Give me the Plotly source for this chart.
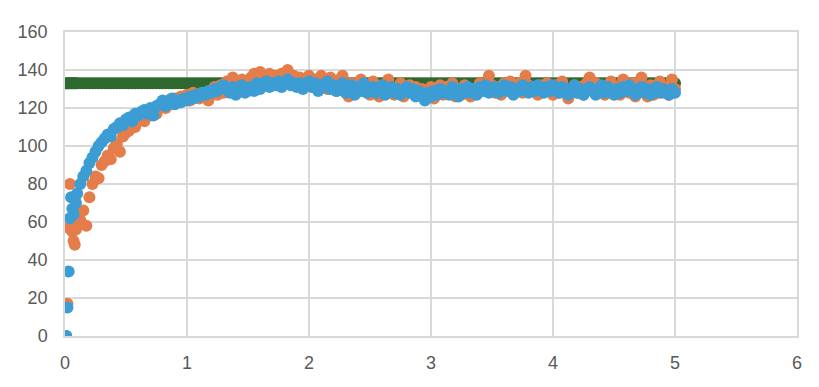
import plotly.graph_objects as go

# sample times: fine steps at the start, then every 0.025
t_early = [0.01, 0.02, 0.03, 0.04, 0.05, 0.06, 0.07, 0.08, 0.09, 0.10]
t_late = [round(0.125 + 0.025 * i, 3) for i in range(196)]
time = t_early + t_late

orange_vals = [
    0, 17, 57, 80, 58, 55, 50, 48, 56, 58,
    61, 66, 58, 73, 80, 84, 83, 90,
    92, 95, 93, 99, 101, 97, 105, 107,
    108, 112, 110, 114, 116, 113, 118, 116,
    119, 117, 121, 123, 120, 124, 122, 125,
    123, 126, 125, 127, 124, 128, 126, 125,
    128, 127, 124, 129, 131, 127, 132, 128,
    134, 131, 136, 130, 133, 135, 132, 129,
    136, 138, 134, 139, 137, 133, 138, 135,
    137, 134, 138, 136, 140, 135, 137, 133,
    136, 132, 134, 137, 131, 135, 133, 137,
    134, 130, 136, 132, 129, 135, 137, 131,
    126, 133, 128, 131, 135, 129, 132, 127,
    134, 130, 126, 132, 128, 135, 131, 127,
    129, 133, 126, 130, 132, 128, 131, 127,
    130, 126, 128, 131, 125, 129, 132, 127,
    131, 128, 133, 126, 130, 127, 132, 129,
    126, 130, 128, 133, 131, 129, 137, 132,
    128, 131, 127, 133, 130, 134, 129, 131,
    133, 128, 137, 132, 129, 131, 127, 132,
    129, 133, 130, 127, 132, 128, 134, 130,
    125, 129, 132, 128, 131, 127, 133, 136,
    129, 133, 128, 131, 127, 130, 134, 129,
    131, 127, 135, 130, 128, 133, 126, 131,
    136, 129, 126, 132, 127, 130, 134, 128,
    131, 127, 135, 130,
]

blue_vals = [
    0, 15, 34, 62, 73, 67, 64, 72, 70, 75,
    80, 84, 87, 91, 94, 97, 100, 102,
    104, 106, 105, 109, 110, 112, 111, 114,
    115, 113, 117, 116, 118, 119, 117, 120,
    116, 121, 122, 124, 121, 123, 125, 122,
    124, 123, 125, 124, 126, 125, 127, 126,
    128, 127, 129, 128, 130, 129, 131, 132,
    130, 128, 131, 127, 129, 132, 128, 130,
    131, 129, 133, 130, 132, 134, 131, 133,
    132, 134, 131, 133, 135, 132, 133, 131,
    133, 130, 132, 134, 131, 133, 129, 132,
    131, 134, 130, 132, 129, 131, 133, 128,
    130, 132, 127, 131, 129, 133, 128, 130,
    131, 128, 130, 132, 127, 129, 131, 128,
    130, 127, 129, 131, 128, 130, 126, 129,
    127, 124, 128, 126, 129, 127, 130, 128,
    129, 127, 131, 128, 126, 130, 128, 131,
    128, 130, 127, 131, 129, 132, 128, 130,
    131, 128, 130, 132, 129, 131, 127, 130,
    129, 132, 130, 128, 131, 129, 132, 130,
    128, 131, 129, 132, 130, 128, 131, 129,
    127, 130, 132, 128, 130, 127, 129, 131,
    129, 127, 130, 132, 128, 131, 129, 127,
    130, 128, 131, 129, 132, 130, 127, 129,
    131, 128, 130, 127, 129, 131, 128, 130,
    129, 127, 130, 128,
]

setpoint_level = 133
green_vals = [setpoint_level] * len(time)

x_ticks = [0, 1, 2, 3, 4, 5, 6]
y_ticks = [0, 20, 40, 60, 80, 100, 120, 140, 160]

fig = go.Figure()
fig.add_trace(go.Scatter(x=time, y=green_vals, mode="markers",
                         marker=dict(size=12, color="#2E6930"), showlegend=False))
fig.add_trace(go.Scatter(x=time, y=orange_vals, mode="markers",
                         marker=dict(size=12, color="#E57D4A"), showlegend=False))
fig.add_trace(go.Scatter(x=time, y=blue_vals, mode="markers",
                         marker=dict(size=12, color="#3B9DD3"), showlegend=False))

grid = "#D9D9D9"
fig.update_layout(
    width=811, height=379,
    margin=dict(l=57, r=22, t=24, b=51),
    plot_bgcolor="white", paper_bgcolor="white",
    font=dict(family="Liberation Sans, Arial, sans-serif", size=18, color="#595959"),
    xaxis=dict(range=[0, 6], tickvals=x_ticks, showgrid=True, gridcolor=grid, gridwidth=1.5,
               zeroline=False, showline=True, linecolor=grid, linewidth=1.5, mirror=True,
               ticks="", ticklabelstandoff=10, automargin=False),
    yaxis=dict(range=[0, 160], tickvals=y_ticks, showgrid=True, gridcolor=grid, gridwidth=1.5,
               zeroline=False, showline=True, linecolor=grid, linewidth=1.5, mirror=True,
               ticks="", ticklabelstandoff=12, automargin=False),
)

fig.write_html("out.html")
